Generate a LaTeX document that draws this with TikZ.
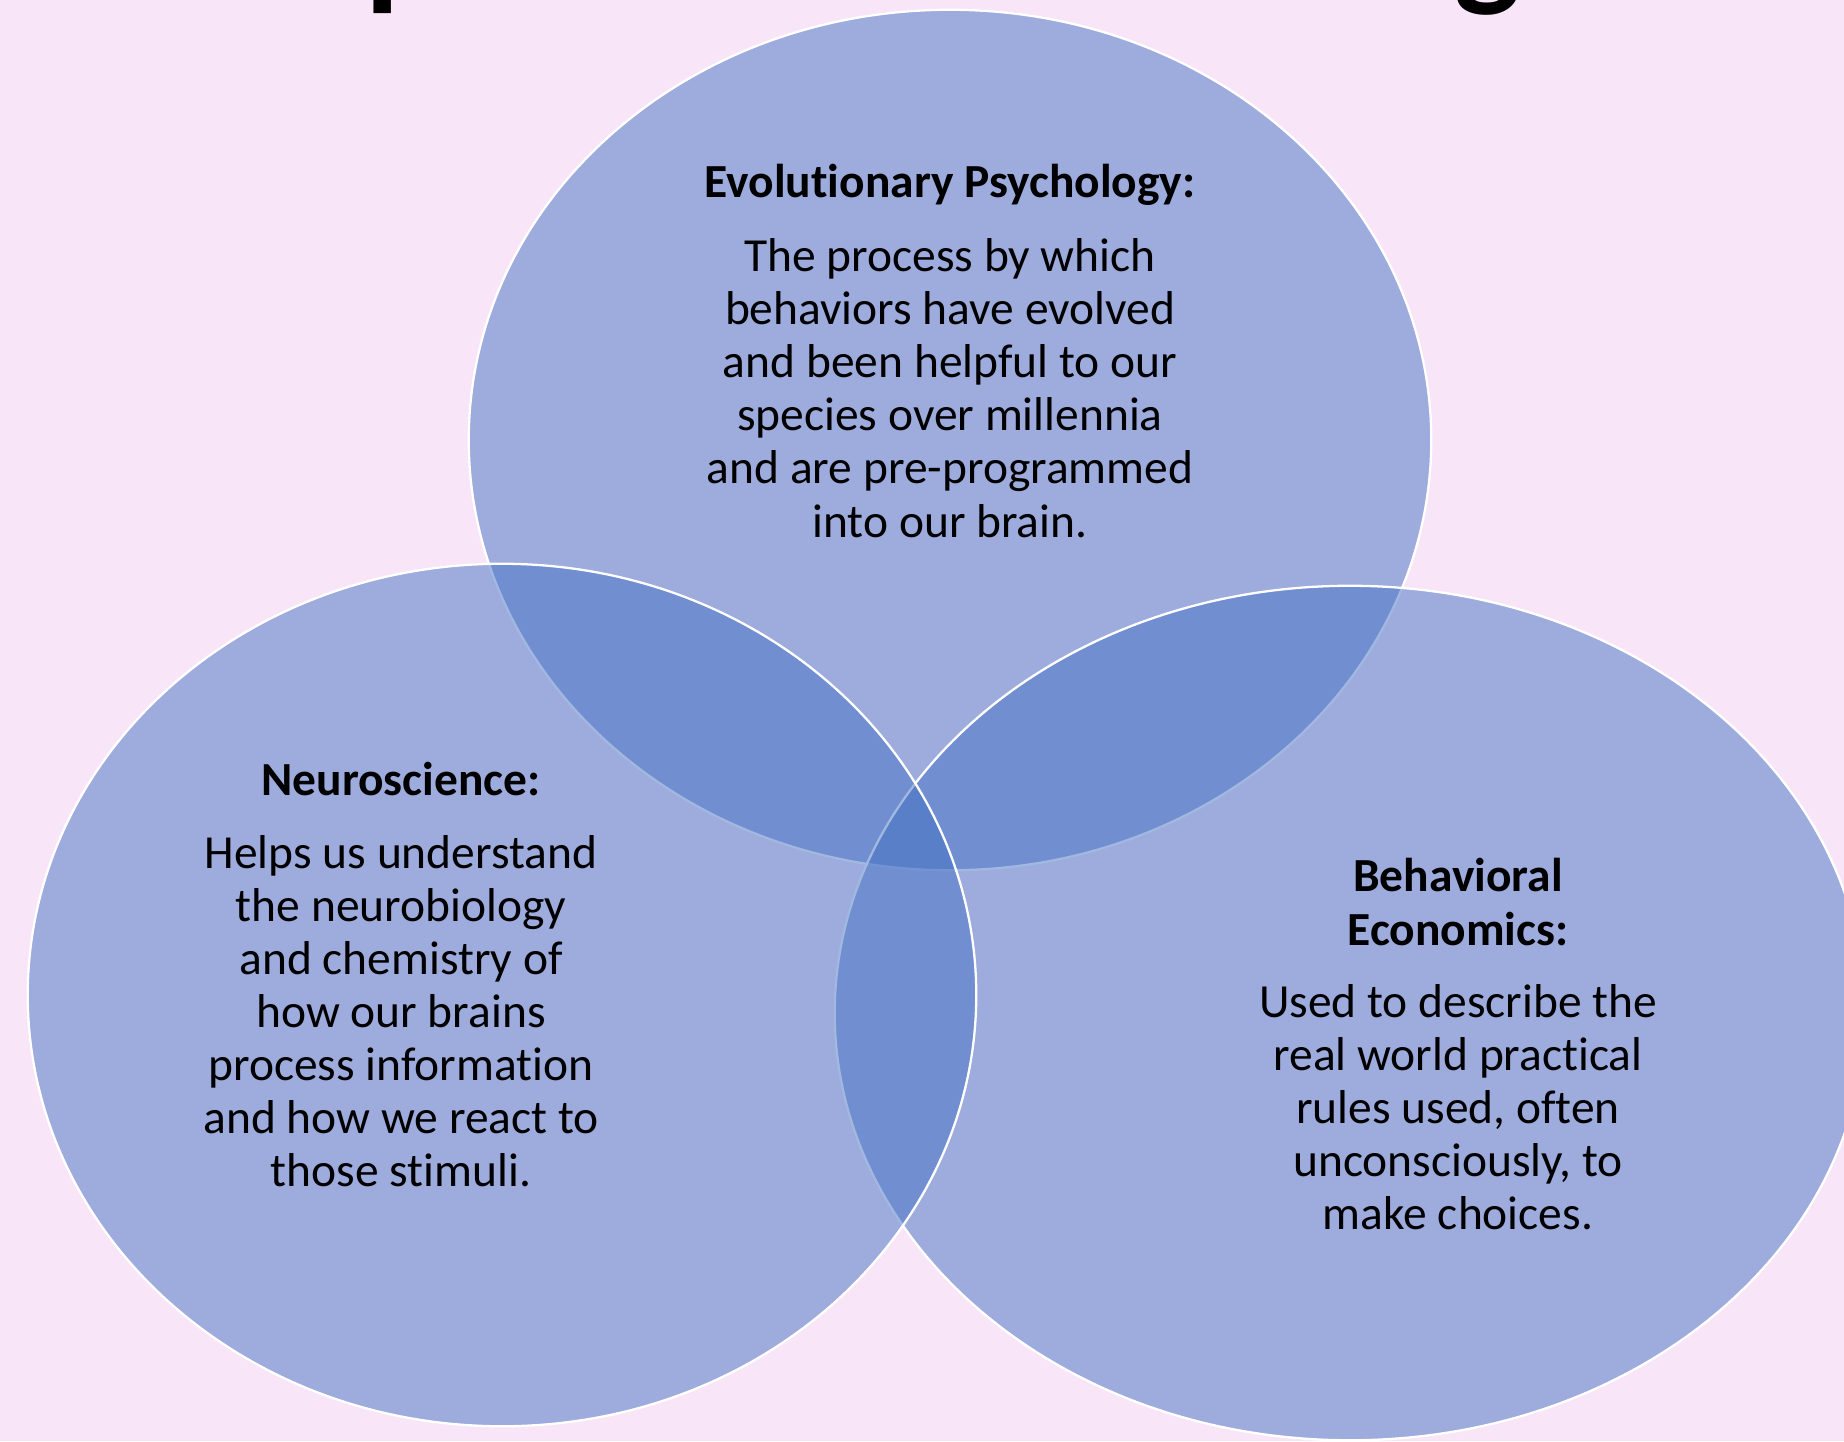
\documentclass[tikz,border=0pt]{standalone}
\usepackage{fontspec}
\setmainfont{Carlito}[RawFeature={-liga;-clig;-dlig}]
\usepackage{xcolor}

\definecolor{slidebg}{RGB}{248,230,248}
\definecolor{vennblue}{RGB}{68,114,196}

\tikzset{
  venn/.style={fill=vennblue, fill opacity=0.5, draw=white, line width=0.65pt},
  headtext/.style={font=\fontsize{13.5}{15.1}\selectfont\bfseries, align=center, inner sep=0pt},
  bodytext/.style={font=\fontsize{13.5}{15.1}\selectfont, align=center, inner sep=0pt},
  titletext/.style={font=\fontsize{40}{48}\selectfont\bfseries, inner sep=0pt, anchor=base}
}

\begin{document}
\begin{tikzpicture}[x=0.01cm, y=-0.01cm]
	\useasboundingbox (0,0) rectangle (1844,1441);
	\fill[slidebg] (0,0) rectangle (1844,1441);
	\clip (0,0) rectangle (1844,1441);

	% title, cut off by the top edge
	\node[titletext] (titlep) at (403,-9) {p};
	\node[titletext] (titleg) at (1488,-9) {g};

	% the three circles
	\draw[venn] (950,440) ellipse [x radius=4.81cm, y radius=4.30cm];
	\draw[venn] (1350,1013) ellipse [x radius=5.15cm, y radius=4.27cm];
	\draw[venn] (502,995) ellipse [x radius=4.74cm, y radius=4.31cm];

	\node[headtext] (evohead) at (950,185) {Evolutionary Psychology:};
	\node[bodytext] (evobody) at (950,388) {The process by which\\behaviors have evolved\\and been helpful to our\\species over millennia\\and are pre-programmed\\into our brain.};

	\node[headtext] (neurohead) at (401,779) {Neuroscience:};
	\node[bodytext] (neurobody) at (401,1011) {Helps us understand\\the neurobiology\\and chemistry of\\how our brains\\process information\\and how we react to\\those stimuli.};

	\node[headtext] (econhead) at (1458,902) {Behavioral\\Economics:};
	\node[bodytext] (econbody) at (1458,1107) {Used to describe the\\real world practical\\rules used, often\\unconsciously, to\\make choices.};
\end{tikzpicture}
\end{document}
